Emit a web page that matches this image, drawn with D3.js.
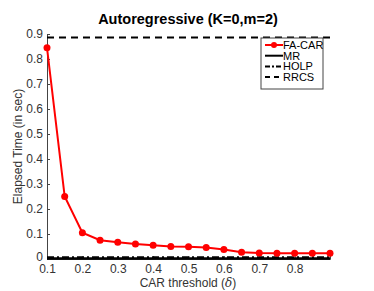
<!DOCTYPE html>
<html>
<head>
<meta charset="utf-8">
<script src="https://cdn.jsdelivr.net/npm/d3@7"></script>
<style>
  body { margin: 0; background: #fff; }
  svg { font-family: "Liberation Sans", Arial, sans-serif; }
</style>
</head>
<body>
<svg id="chart" width="374" height="291"></svg>
<script>
// data
var thresholds = [0.1, 0.15, 0.2, 0.25, 0.3, 0.35, 0.4, 0.45, 0.5, 0.55, 0.6, 0.65, 0.7, 0.75, 0.8, 0.85, 0.9];
var facar = [0.845, 0.25, 0.105, 0.075, 0.067, 0.06, 0.055, 0.05, 0.049, 0.046, 0.038, 0.027, 0.024, 0.023, 0.023, 0.023, 0.023];
var mrTime = 0.002;
var holpTime = 0.007;
var rrcsTime = 0.886;
var xTicks = [0.1, 0.2, 0.3, 0.4, 0.5, 0.6, 0.7, 0.8];
var yTicks = [0, 0.1, 0.2, 0.3, 0.4, 0.5, 0.6, 0.7, 0.8, 0.9];
var legendNames = ['FA-CAR', 'MR', 'HOLP', 'RRCS'];

var svg = d3.select('#chart');
var m = {left: 47, right: 44, top: 34, bottom: 32};
var W = 374, H = 291;

var x = d3.scaleLinear().domain([0.1, 0.9]).range([m.left, W - m.right]);
var y = d3.scaleLinear().domain([0, 0.9]).range([H - m.bottom, m.top]);

var axisColor = '#444';

// axes
var gx = svg.append('g').attr('transform', 'translate(0,' + y(0) + ')')
    .call(d3.axisBottom(x).tickValues(xTicks).tickSize(-3).tickPadding(5).tickFormat(d3.format('.1f')));
var gy = svg.append('g').attr('transform', 'translate(' + x(0.1) + ',0)')
    .call(d3.axisLeft(y).tickValues(yTicks).tickSize(-3).tickPadding(4)
      .tickFormat(function (d) { return d === 0 ? '0' : d3.format('.1f')(d); }));
[gx, gy].forEach(function (g) {
    g.selectAll('.domain').attr('stroke', axisColor).attr('stroke-width', 1);
    g.selectAll('.tick line').attr('stroke', axisColor);
    g.selectAll('.tick text').attr('fill', '#333').style('font-size', '12px').style('font-family', '"Liberation Sans", Arial, sans-serif');
});
// "0" sits slightly higher, as in the original
gy.selectAll('.tick text').filter(function (d) { return d === 0; }).attr('dy', '0.1em');

// reference lines
function hline(v, dash, width) {
    svg.append('line')
        .attr('x1', x(0.1)).attr('x2', x(0.9))
        .attr('y1', y(v)).attr('y2', y(v))
        .attr('stroke', '#000').attr('stroke-width', width)
        .attr('stroke-dasharray', dash);
}
hline(rrcsTime, '7,5', 2);
hline(mrTime, null, 2.5);
hline(holpTime, '7,3,2,3', 2);

// FA-CAR
var line = d3.line().x(function (d, i) { return x(thresholds[i]); }).y(function (d) { return y(d); });
svg.append('path').datum(facar)
    .attr('d', line).attr('fill', 'none').attr('stroke', '#ff0000').attr('stroke-width', 2);
svg.selectAll('circle.pt').data(facar).enter().append('circle')
    .attr('class', 'pt')
    .attr('cx', function (d, i) { return x(thresholds[i]); })
    .attr('cy', function (d) { return y(d); })
    .attr('r', 3.5).attr('fill', '#ff0000');

// title
svg.append('text').attr('x', 188).attr('y', 24).attr('text-anchor', 'middle')
    .style('font-size', '14.5px').style('font-weight', 'bold').text('Autoregressive (K=0,m=2)');

// axis labels
var xl = svg.append('text').attr('x', 188).attr('y', 287).attr('text-anchor', 'middle')
    .attr('fill', '#333').style('font-size', '12px');
xl.append('tspan').text('CAR threshold (');
xl.append('tspan').style('font-style', 'italic').style('font-family', '"DejaVu Serif", serif').text('δ');
xl.append('tspan').text(')');

svg.append('text').attr('transform', 'translate(22,' + ((y(0) + y(0.9)) / 2) + ') rotate(-90)')
    .attr('text-anchor', 'middle').attr('fill', '#333').style('font-size', '12px')
    .text('Elapsed Time (in sec)');

// legend
var lg = svg.append('g').attr('transform', 'translate(261,38)');
lg.append('rect').attr('width', 62).attr('height', 51)
    .attr('fill', '#fff').attr('stroke', axisColor).attr('stroke-width', 1);
var styles = [
    {dash: null, color: '#ff0000', marker: true},
    {dash: null, color: '#000', marker: false},
    {dash: '5,2,2,2', color: '#000', marker: false},
    {dash: '5,4', color: '#000', marker: false}
];
legendNames.forEach(function (name, i) {
    var yy = 7 + i * 10.7;
    lg.append('line').attr('x1', 4).attr('x2', 22).attr('y1', yy).attr('y2', yy)
        .attr('stroke', styles[i].color).attr('stroke-width', 2)
        .attr('stroke-dasharray', styles[i].dash);
    if (styles[i].marker) {
        lg.append('circle').attr('cx', 13).attr('cy', yy).attr('r', 3).attr('fill', '#ff0000');
    }
    lg.append('text').attr('x', 22).attr('y', yy + 4).style('font-size', '11px').attr('fill', '#000').text(name);
});
</script>
</body>
</html>
